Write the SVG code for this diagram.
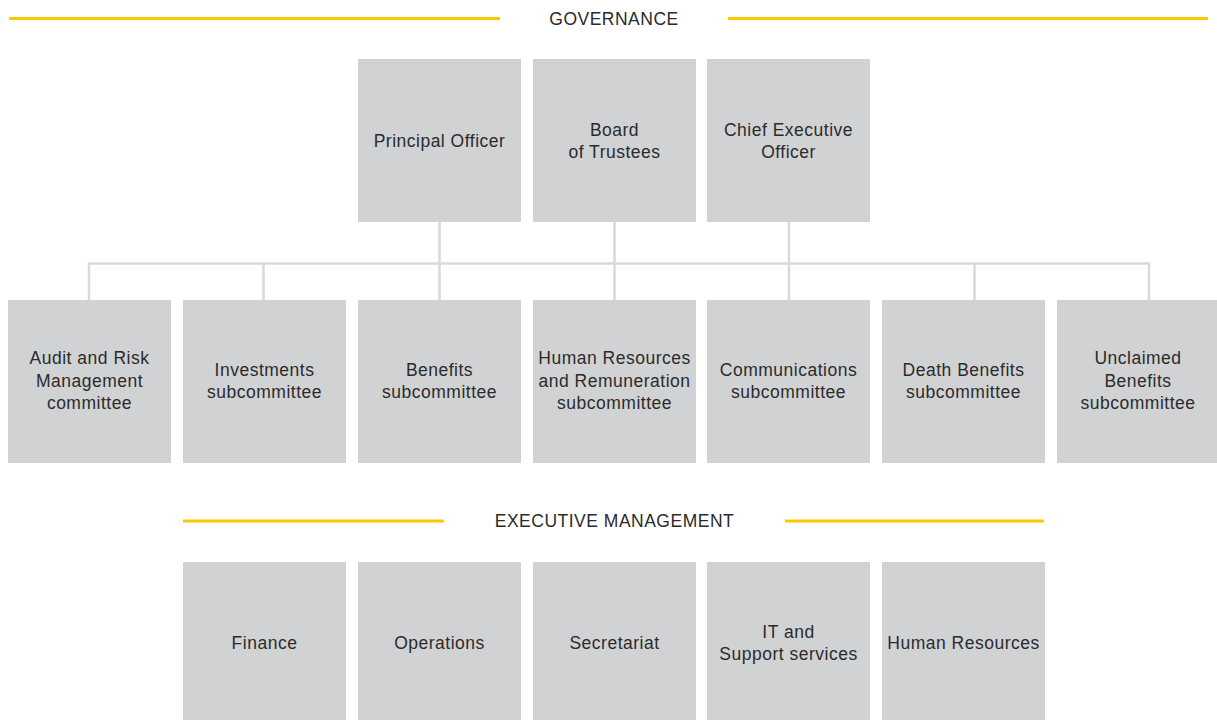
<svg xmlns="http://www.w3.org/2000/svg" width="1217" height="720" viewBox="0 0 1217 720">
  <style>
    .box { fill: #d1d2d4; }
    .lbl { font-family: "Liberation Sans", Arial, sans-serif; font-size: 17.5px; letter-spacing: 0.5px; fill: #2b2b2b; text-anchor: middle; }
    .hdr { font-family: "Liberation Sans", Arial, sans-serif; font-size: 17.5px; letter-spacing: 0.5px; fill: #2b2b2b; text-anchor: middle; }
    .rule { stroke: #fcc900; stroke-width: 3; fill: none; }
    .link { stroke: #d9d9da; stroke-width: 2.5; fill: none; }
  </style>
  <rect width="1217" height="720" fill="#ffffff"/>

  <!-- section headings -->
  <g id="heading-governance">
    <line class="rule" x1="9" y1="18.5" x2="500" y2="18.5"/>
    <line class="rule" x1="728" y1="18.5" x2="1208" y2="18.5"/>
    <text class="hdr" x="614" y="25">GOVERNANCE</text>
  </g>
  <g id="heading-executive">
    <line class="rule" x1="183" y1="521" x2="444" y2="521"/>
    <line class="rule" x1="785" y1="521" x2="1044" y2="521"/>
    <text class="hdr" x="614.5" y="527">EXECUTIVE MANAGEMENT</text>
  </g>

  <!-- connectors -->
  <g id="connectors">
    <line class="link" x1="439.5" y1="221" x2="439.5" y2="300"/>
    <line class="link" x1="614.5" y1="221" x2="614.5" y2="300"/>
    <line class="link" x1="789" y1="221" x2="789" y2="300"/>
    <line class="link" x1="89" y1="263.5" x2="1149" y2="263.5"/>
    <line class="link" x1="89" y1="262.5" x2="89" y2="300"/>
    <line class="link" x1="263.5" y1="263" x2="263.5" y2="300"/>
    <line class="link" x1="974.5" y1="263" x2="974.5" y2="300"/>
    <line class="link" x1="1149" y1="262.5" x2="1149" y2="300"/>
  </g>

  <!-- governance: top row -->
  <g id="principal-officer">
    <rect class="box" x="358" y="59" width="163" height="163"/>
    <text class="lbl" x="439.5" y="147">Principal Officer</text>
  </g>
  <g id="board-of-trustees">
    <rect class="box" x="533" y="59" width="163" height="163"/>
    <text class="lbl" x="614.5" y="136">Board</text>
    <text class="lbl" x="614.5" y="158">of Trustees</text>
  </g>
  <g id="chief-executive-officer">
    <rect class="box" x="707" y="59" width="163" height="163"/>
    <text class="lbl" x="788.5" y="136">Chief Executive</text>
    <text class="lbl" x="788.5" y="158">Officer</text>
  </g>

  <!-- governance: committees -->
  <g id="audit-risk">
    <rect class="box" x="8" y="300" width="163" height="163"/>
    <text class="lbl" x="89.5" y="364">Audit and Risk</text>
    <text class="lbl" x="89.5" y="386.5">Management</text>
    <text class="lbl" x="89.5" y="409">committee</text>
  </g>
  <g id="investments">
    <rect class="box" x="183" y="300" width="163" height="163"/>
    <text class="lbl" x="264.5" y="376">Investments</text>
    <text class="lbl" x="264.5" y="398">subcommittee</text>
  </g>
  <g id="benefits">
    <rect class="box" x="358" y="300" width="163" height="163"/>
    <text class="lbl" x="439.5" y="376">Benefits</text>
    <text class="lbl" x="439.5" y="398">subcommittee</text>
  </g>
  <g id="hr-remuneration">
    <rect class="box" x="533" y="300" width="163" height="163"/>
    <text class="lbl" x="614.5" y="364">Human Resources</text>
    <text class="lbl" x="614.5" y="386.5">and Remuneration</text>
    <text class="lbl" x="614.5" y="409">subcommittee</text>
  </g>
  <g id="communications">
    <rect class="box" x="707" y="300" width="163" height="163"/>
    <text class="lbl" x="788.5" y="376">Communications</text>
    <text class="lbl" x="788.5" y="398">subcommittee</text>
  </g>
  <g id="death-benefits">
    <rect class="box" x="882" y="300" width="163" height="163"/>
    <text class="lbl" x="963.5" y="376">Death Benefits</text>
    <text class="lbl" x="963.5" y="398">subcommittee</text>
  </g>
  <g id="unclaimed-benefits">
    <rect class="box" x="1057" y="300" width="163" height="163"/>
    <text class="lbl" x="1138" y="364">Unclaimed</text>
    <text class="lbl" x="1138" y="386.5">Benefits</text>
    <text class="lbl" x="1138" y="409">subcommittee</text>
  </g>

  <!-- executive management -->
  <g id="finance">
    <rect class="box" x="183" y="562" width="163" height="163"/>
    <text class="lbl" x="264.5" y="649">Finance</text>
  </g>
  <g id="operations">
    <rect class="box" x="358" y="562" width="163" height="163"/>
    <text class="lbl" x="439.5" y="649">Operations</text>
  </g>
  <g id="secretariat">
    <rect class="box" x="533" y="562" width="163" height="163"/>
    <text class="lbl" x="614.5" y="649">Secretariat</text>
  </g>
  <g id="it-support">
    <rect class="box" x="707" y="562" width="163" height="163"/>
    <text class="lbl" x="788.5" y="638">IT and</text>
    <text class="lbl" x="788.5" y="660">Support services</text>
  </g>
  <g id="human-resources">
    <rect class="box" x="882" y="562" width="163" height="163"/>
    <text class="lbl" x="963.5" y="649">Human Resources</text>
  </g>
</svg>
